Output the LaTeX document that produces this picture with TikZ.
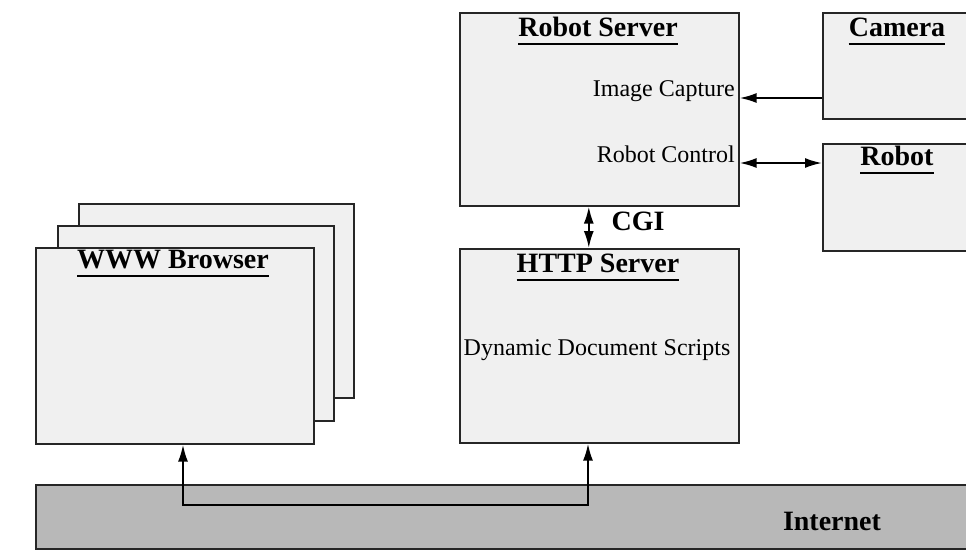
\documentclass[tikz,border=0pt]{standalone}
\usepackage{fontspec}
\setmainfont{Liberation Serif}
\usetikzlibrary{arrows.meta}

\begin{document}
\begin{tikzpicture}[x=1pt,y=-1pt,
  box/.style={draw=black!85, line width=1.6pt, fill=black!6, anchor=north west, inner sep=0pt},
  title/.style={font=\bfseries\fontsize{28}{30}\selectfont, inner sep=0pt, anchor=base},
  ul/.style={line width=1.8pt},
  lbl/.style={font=\fontsize{24}{26}\selectfont, inner sep=0pt},
  boldlbl/.style={font=\bfseries\fontsize{28}{30}\selectfont, inner sep=0pt, anchor=base},
  tip/.tip={Latex[length=17pt,width=10pt]},
  arr/.style={line width=2pt, -tip},
  darr/.style={line width=2pt, tip-tip}
]
\useasboundingbox (0,0) rectangle (966,550);
\clip (0,0) rectangle (966,550);

% Internet band
\node[box, fill=black!28, minimum width=960pt, minimum height=64pt] (net) at (35,484) {};
\node[boldlbl] (netl) at (832,530) {Internet};

% stacked browser windows
\node[box, minimum width=275pt, minimum height=194pt] (br3) at (78,203) {};
\node[box, minimum width=276pt, minimum height=195pt] (br2) at (57,225) {};
\node[box, minimum width=278pt, minimum height=196pt] (br1) at (35,247) {};
\node[title] (brt) at (173,268) {WWW Browser};

% servers
\node[box, minimum width=279pt, minimum height=193pt] (rs) at (459,12) {};
\node[title] (rst) at (598,36) {Robot Server};
\node[lbl, anchor=base east] (ic) at (735,96) {Image Capture};
\node[lbl, anchor=base east] (rc) at (735,162) {Robot Control};

\node[box, minimum width=279pt, minimum height=194pt] (http) at (459,248) {};
\node[title] (httpt) at (598,272) {HTTP Server};
\node[lbl, anchor=base] (dds) at (597,355) {Dynamic Document Scripts};

% devices
\node[box, minimum width=170pt, minimum height=106pt] (cam) at (822,12) {};
\node[title] (camt) at (897,36) {Camera};
\node[box, minimum width=170pt, minimum height=107pt] (rob) at (822,143) {};
\node[title] (robt) at (897,165) {Robot};

% underlined headings
\foreach \t in {brt,rst,httpt,camt,robt}
  \draw[ul] ([yshift=-8pt]\t.base west) -- ([yshift=-8pt]\t.base east);

% connectors
\coordinate (icY) at ([yshift=-2pt]ic.base east);
\draw[arr] (cam.west |- icY) -- (rs.east |- icY);
\coordinate (rcY) at ([yshift=-1pt]rc.base east);
\draw[darr] (rs.east |- rcY) -- (rob.west |- rcY);

\draw[darr] ([xshift=-10.5pt]rs.south) -- ([xshift=-10.5pt]http.north);
\node[boldlbl] (cgi) at (638,230) {CGI};

\coordinate (busL) at (183,505);
\coordinate (busR) at (588,505);
\draw[darr] (br1.south -| busL) -- (busL) -- (busR) -- (http.south -| busR);
\end{tikzpicture}
\end{document}
